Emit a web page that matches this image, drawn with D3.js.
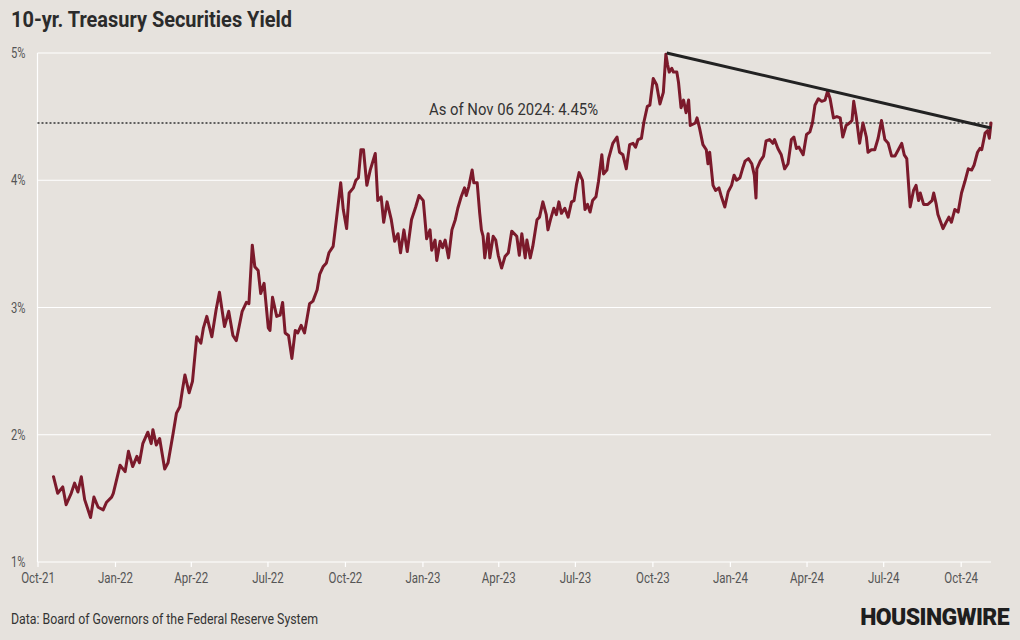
<!DOCTYPE html>
<html>
<head>
<meta charset="utf-8">
<script src="https://cdn.jsdelivr.net/npm/d3@7"></script>
<style>
  html, body { margin: 0; padding: 0; background: #e6e2dd; }
  svg { display: block; }
  text { font-family: Roboto, "Noto Sans", sans-serif; }
</style>
</head>
<body>
<svg id="chart" width="1020" height="640"></svg>
<script>
// ---- data ----
const startDate = "2021-10-01";
const endDate = "2024-11-06";
// days after startDate
const dayOffsets = [
  19,24,30,34,40,44,48,52,56,63,67,72,78,82,88,90,98,104,108,113,118,121,125,131,135,137,141,145,151,155,161,165,169,172,175,180,184,189,194,197,201,207,212,216,222,227,
  232,236,243,248,251,255,258,262,265,269,274,276,279,284,288,291,294,298,302,306,309,313,317,323,327,332,335,339,343,346,351,355,360,363,367,370,375,378,381,384,387,391,395,401,404,408,411,415,420,424,428,431,435,439,444,449,453,
  458,462,466,468,472,474,478,481,484,488,492,496,499,503,507,509,512,516,518,522,525,527,529,531,535,537,541,544,547,551,555,559,563,569,572,575,579,581,585,588,593,596,600,604,606,609,613,616,619,622,626,630,634,637,640,643,647,650,653,656,659,663,666,670,672,676,678,
  683,688,691,695,699,703,707,710,713,717,720,724,727,731,735,739,743,746,748,750,753,755,759,761,764,767,770,773,775,781,783,786,790,794,796,798,802,805,809,812,816,820,824,827,830,834,837,840,844,848,851,853,854,858,862,865,869,873,875,879,883,887,891,895,898,901,904,
  909,913,917,920,923,927,931,935,938,941,945,949,953,956,960,964,967,969,972,976,980,984,986,990,994,998,1002,1006,1010,1014,1018,1022,1026,1029,1032,1036,1040,1043,1046,1048,1052,1057,1062,1064,1067,1069,1075,1078,1082,1085,1089,1093,1097,1101,1105,1109,1112,1116,1119,1121,1125,1128,1130,1132
];
const yields = [
  1.67,1.54,1.59,1.45,1.54,1.62,1.55,1.67,1.49,1.35,1.51,1.43,1.41,1.47,1.51,1.54,1.76,1.71,1.87,1.75,1.83,1.78,1.93,2.02,1.93,2.04,1.92,1.97,1.73,1.78,2.01,2.17,2.22,2.35,2.47,2.33,2.42,2.77,2.72,2.84,2.93,2.77,2.98,3.12,2.85,2.97,
  2.78,2.74,2.97,3.04,3.03,3.49,3.32,3.29,3.11,3.19,2.84,2.82,3.08,2.93,2.94,3.04,2.80,2.78,2.60,2.82,2.80,2.86,2.80,3.03,3.05,3.14,3.26,3.32,3.35,3.43,3.48,3.70,3.98,3.77,3.62,3.90,3.94,4.00,4.02,4.24,4.24,3.96,4.08,4.21,3.84,3.87,3.67,3.83,3.69,3.52,3.58,3.43,3.61,3.44,3.69,3.79,3.88,
  3.84,3.54,3.61,3.45,3.53,3.37,3.52,3.47,3.53,3.39,3.61,3.69,3.78,3.87,3.94,3.88,3.95,4.08,3.98,3.98,3.74,3.61,3.56,3.39,3.58,3.39,3.56,3.53,3.41,3.31,3.40,3.43,3.60,3.56,3.41,3.58,3.39,3.53,3.39,3.48,3.69,3.71,3.83,3.73,3.61,3.69,3.78,3.73,3.83,3.74,3.78,3.71,3.83,3.84,3.97,4.06,4.00,3.77,3.81,3.75,3.84,3.87,3.99,4.20,4.05,4.08,4.17,
  4.29,4.34,4.22,4.20,4.09,4.28,4.29,4.26,4.32,4.33,4.46,4.58,4.59,4.80,4.75,4.60,4.69,4.99,4.91,4.85,4.88,4.85,4.85,4.77,4.57,4.63,4.53,4.63,4.43,4.45,4.49,4.41,4.28,4.24,4.13,4.22,3.96,3.92,3.94,3.87,3.79,3.91,3.96,4.04,4.00,4.02,4.09,4.15,4.17,4.13,4.04,3.86,4.09,4.15,4.19,4.31,4.32,4.29,4.32,4.25,4.20,4.09,4.13,4.32,4.34,4.25,4.26,
  4.20,4.36,4.38,4.45,4.59,4.64,4.62,4.63,4.70,4.64,4.49,4.50,4.49,4.34,4.43,4.45,4.47,4.62,4.50,4.29,4.45,4.34,4.22,4.24,4.24,4.33,4.47,4.32,4.29,4.19,4.19,4.24,4.29,4.20,4.17,3.79,3.92,3.96,3.84,3.90,3.81,3.81,3.84,3.90,3.81,3.73,3.62,3.66,3.71,3.67,3.77,3.75,3.90,3.99,4.09,4.08,4.12,4.22,4.25,4.24,4.37,4.39,4.33,4.45
];
const yTickValues = [1, 2, 3, 4, 5];
const latestValue = 4.45;
const annotationText = "As of Nov 06 2024: 4.45%";
const trendDays = [747, 1132];
const trendValues = [5.0, 4.41];
const titleText = "10-yr. Treasury Securities Yield";
const sourceText = "Data: Board of Governors of the Federal Reserve System";
const logoText = "HOUSINGWIRE";

// ---- drawing ----
const svg = d3.select("#chart");
const W = 1020, H = 640;
const parse = d3.timeParse("%Y-%m-%d");
const t0 = parse(startDate), t1 = parse(endDate);
const toDate = d => d3.timeDay.offset(t0, d);

const x = d3.scaleTime().domain([t0, t1]).range([37.5, 991]);
const y = d3.scaleLinear().domain([1, 5]).range([562, 53]);

const data = dayOffsets.map((d, i) => ({ date: toDate(d), value: yields[i] }));

function condense(sel, f) {
  sel.each(function () {
    const len = this.getComputedTextLength();
    d3.select(this).attr("textLength", len * f).attr("lengthAdjust", "spacingAndGlyphs");
  });
}

svg.append("rect").attr("width", W).attr("height", H).attr("fill", "#e6e2dd");

// title
svg.append("text").attr("x", 11).attr("y", 27)
  .attr("font-size", 22).attr("font-weight", 700).attr("fill", "#2b2b2b")
  .text(titleText)
  .attr("textLength", 281).attr("lengthAdjust", "spacingAndGlyphs");

// gridlines
svg.append("g").selectAll("line").data(yTickValues).join("line")
  .attr("x1", x.range()[0]).attr("x2", x.range()[1])
  .attr("y1", d => y(d)).attr("y2", d => y(d))
  .attr("stroke", "#ffffff").attr("stroke-width", 1.2);

// vertical axis line
svg.append("line").attr("x1", x.range()[0]).attr("x2", x.range()[0])
  .attr("y1", y(5)).attr("y2", y(1)).attr("stroke", "#ffffff").attr("stroke-width", 1.2);

// y labels
const yl = svg.append("g").selectAll("text").data(yTickValues).join("text")
  .attr("x", 11).attr("y", d => y(d)).attr("dy", "0.36em")
  .attr("font-size", 14).attr("fill", "#555")
  .text(d => d + "%");
condense(yl, 0.8);

// x axis
const xTicks = d3.timeMonth.every(3).range(t0, t1);
const xAxis = svg.append("g").attr("transform", `translate(0,${y(1)})`)
  .call(d3.axisBottom(x).tickValues(xTicks).tickFormat(d3.timeFormat("%b-%y")).tickSize(5).tickPadding(6));
xAxis.select(".domain").remove();
xAxis.selectAll(".tick line").attr("stroke", "#ffffff").attr("stroke-width", 1.2);
xAxis.selectAll(".tick text").attr("font-size", 14).attr("fill", "#555")
  .attr("font-family", "Roboto, sans-serif");
condense(xAxis.selectAll(".tick text"), 0.82);

// latest value dotted line
svg.append("line").attr("x1", x.range()[0]).attr("x2", x.range()[1])
  .attr("y1", y(latestValue)).attr("y2", y(latestValue))
  .attr("stroke", "#333").attr("stroke-width", 1.6).attr("stroke-dasharray", "2,2");

svg.append("text").attr("x", 513.5).attr("y", y(latestValue) - 8)
  .attr("text-anchor", "middle").attr("font-size", 16).attr("fill", "#333")
  .text(annotationText)
  .attr("textLength", 169).attr("lengthAdjust", "spacingAndGlyphs");

// series line
const line = d3.line().x(d => x(d.date)).y(d => y(d.value)).curve(d3.curveLinear);
svg.append("path").datum(data).attr("d", line)
  .attr("fill", "none").attr("stroke", "#7b1a2b").attr("stroke-width", 3)
  .attr("stroke-linejoin", "round").attr("stroke-linecap", "round");

// trend line
const trend = trendDays.map((d, i) => ({ date: toDate(d), value: trendValues[i] }));
svg.append("path").datum(trend).attr("d", line)
  .attr("fill", "none").attr("stroke", "#222").attr("stroke-width", 3);

// footer
svg.append("text").attr("x", 11).attr("y", 624)
  .attr("font-size", 14).attr("fill", "#333").text(sourceText)
  .attr("textLength", 307).attr("lengthAdjust", "spacingAndGlyphs");

svg.append("text").attr("x", 1009).attr("y", 625)
  .attr("text-anchor", "end")
  .attr("font-size", 23).attr("font-weight", 900).attr("fill", "#1e1e1e")
  .attr("letter-spacing", -0.6)
  .text(logoText);
</script>
</body>
</html>
